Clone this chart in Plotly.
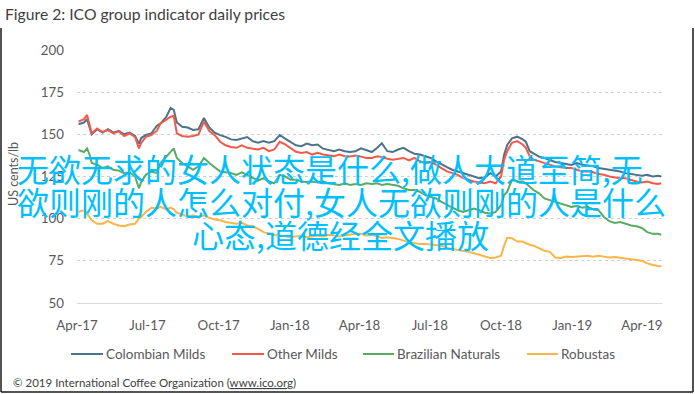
import plotly.graph_objects as go

# ---------------- data ----------------
dates = [
    "2017-04-03", "2017-04-10", "2017-04-14", "2017-04-18", "2017-04-20", "2017-04-27",
    "2017-05-04", "2017-05-11", "2017-05-18", "2017-05-25",
    "2017-06-01", "2017-06-08", "2017-06-15", "2017-06-20", "2017-06-23", "2017-06-29",
    "2017-07-06", "2017-07-13", "2017-07-18", "2017-07-25", "2017-07-31",
    "2017-08-04", "2017-08-08", "2017-08-15", "2017-08-22", "2017-08-29",
    "2017-09-05", "2017-09-12", "2017-09-19", "2017-09-26",
    "2017-10-03", "2017-10-10", "2017-10-17", "2017-10-24", "2017-10-31",
    "2017-11-07", "2017-11-14", "2017-11-21", "2017-11-28",
    "2017-12-05", "2017-12-12", "2017-12-19", "2017-12-26",
    "2018-01-02", "2018-01-09", "2018-01-16", "2018-01-23", "2018-01-30",
    "2018-02-06", "2018-02-13", "2018-02-20", "2018-02-27",
    "2018-03-06", "2018-03-13", "2018-03-20", "2018-03-27",
    "2018-04-03", "2018-04-10", "2018-04-17", "2018-04-24", "2018-04-30",
    "2018-05-07", "2018-05-14", "2018-05-21", "2018-05-28",
    "2018-06-04", "2018-06-11", "2018-06-18", "2018-06-25",
    "2018-07-02", "2018-07-09", "2018-07-16", "2018-07-23", "2018-07-30",
    "2018-08-06", "2018-08-13", "2018-08-20", "2018-08-27",
    "2018-09-03", "2018-09-10", "2018-09-17", "2018-09-24",
    "2018-10-01", "2018-10-05", "2018-10-09", "2018-10-15", "2018-10-22", "2018-10-29",
    "2018-11-02", "2018-11-07", "2018-11-12", "2018-11-19", "2018-11-26",
    "2018-12-03", "2018-12-10", "2018-12-17", "2018-12-24", "2018-12-31",
    "2019-01-07", "2019-01-14", "2019-01-21", "2019-01-28",
    "2019-02-04", "2019-02-11", "2019-02-18", "2019-02-25",
    "2019-03-04", "2019-03-11", "2019-03-18", "2019-03-25",
    "2019-04-01", "2019-04-08", "2019-04-15", "2019-04-22", "2019-04-26",
]

colombian_milds = [
    156, 157, 159, 153, 150, 153,
    151, 153, 151, 152,
    150, 151, 149, 144.5, 147.8, 149.6,
    150.5, 155, 156.5, 160, 165.6,
    164.5, 157, 154.5, 154, 152.6,
    153, 159.7, 154, 151,
    149.5, 148.5, 147, 146.7, 147.5,
    148.4, 146, 145, 146,
    145, 146, 149.6, 147.5,
    145.6, 143.5, 143, 144.5, 143.5,
    144, 141.5, 140.7, 140,
    141, 140, 139.5, 140,
    141.7, 140.5, 139.5, 142, 144.7,
    140, 139.5, 141, 142,
    140, 138.5, 138, 137,
    136, 134, 132, 130.5, 129,
    128, 127, 126, 125,
    124, 124.5, 127, 125,
    128, 138, 143.7, 147.6, 148.6, 147,
    145.6, 140, 138.7, 136.8, 136,
    134.8, 133.6, 133, 132.5, 131.8,
    133, 132, 131.5, 131,
    130, 129.5, 129, 128.5,
    128, 127, 126.5, 126,
    125.5, 126, 125, 125.5, 125,
]

other_milds = [
    157.5, 159, 161.5, 154, 150.6, 153.5,
    151.4, 152.5, 150.5, 151.8,
    149, 150.5, 148.4, 141.7, 145, 148.5,
    149.6, 152, 156.5, 158.5, 160.5,
    161, 150.6, 149, 148.5, 149,
    150, 157.5, 152, 149.5,
    145.6, 143.5, 142.5, 142, 143.5,
    142, 141.5, 141, 142,
    140, 141, 145.6, 144,
    142, 139.7, 139, 139.5, 138,
    139, 138, 137.5, 137,
    138, 137, 136.8, 137.5,
    136.8, 136, 136, 137, 136.5,
    135.5, 135, 135.5, 136,
    134.5, 136, 134, 133,
    133.5, 132, 130, 128, 127,
    126, 124, 123, 122,
    121.5, 121, 122, 121,
    125, 135, 140, 145, 146, 144,
    142, 137, 135, 134, 133,
    132, 131, 130.5, 130, 130,
    129, 128, 128, 127.5,
    126.5, 126, 125, 124.5,
    124, 124, 123, 122,
    121.5, 122, 121, 120.5, 121,
]

brazilian_naturals = [
    140.7, 139.5, 141.7, 137, 133, 132,
    130, 131, 129, 128.5,
    127, 127.5, 125, 118, 121.7, 126,
    128, 127, 133, 136.5, 139.7,
    141.7, 136, 133, 131, 129,
    131, 136, 133, 130.6,
    128, 127.5, 127, 126, 127.5,
    126, 124, 122.5, 124,
    122, 121, 126, 125,
    123, 123, 122, 121.7, 122,
    121.5, 122, 121, 120.5,
    120, 121, 120, 120.5,
    120, 121, 120.5, 121, 120,
    120.5, 120, 119.5, 118,
    117, 117, 116, 114,
    113, 112, 110, 108, 106.5,
    105, 104, 105, 106,
    105, 103.5, 103, 104,
    108, 114, 116, 123, 122, 122,
    121, 119, 117, 115, 112,
    111, 110, 109, 108, 107,
    107.5, 106.5, 107, 105.5,
    105, 101, 98.5, 97.5,
    98, 97, 96, 95.5,
    94.5, 92, 91, 91, 90.5,
]

robustas = [
    104, 105, 103, 100, 99, 97,
    97, 98.5, 97, 96,
    95.5, 96.5, 97, 100, 101, 104,
    106.5, 106, 107, 105.5, 106.5,
    105.5, 103.5, 102.5, 101, 102,
    101, 102, 100.5, 99.5,
    99, 98, 97.5, 97, 97.5,
    96, 95.5, 94, 92,
    91, 90.3, 90, 89.5,
    89, 89.5, 90, 89, 89.5,
    90, 89.5, 90.5, 90,
    89.5, 90, 90.5, 91,
    91, 90, 90.5, 89.5, 88.6,
    89, 88.5, 88, 87,
    86, 85.5, 85, 85,
    84.5, 84.4, 84, 82.6, 82,
    81.5, 81, 80.3, 79.5,
    78.5, 77.5, 76.7, 77,
    78, 84, 88.6, 88.4, 86.4, 86.4,
    85.5, 84.5, 84, 82.5, 81,
    80.3, 77, 76.7, 77.5, 77.3,
    77.5, 78, 78, 77.5,
    78, 77.5, 77, 77.3,
    77, 76.5, 76, 75.5,
    75, 73.5, 72.5, 72, 71.8,
]

series_names = ["Colombian Milds", "Other Milds", "Brazilian Naturals", "Robustas"]
series_colors = ["#4E7289", "#F2594B", "#5AAB62", "#F9B548"]

x_tick_dates = ["2017-04-01", "2017-07-01", "2017-10-01", "2018-01-01", "2018-04-01",
                "2018-07-01", "2018-10-01", "2019-01-01", "2019-04-01"]
x_tick_labels = ["Apr-17", "Jul-17", "Oct-17", "Jan-18", "Apr-18",
                 "Jul-18", "Oct-18", "Jan-19", "Apr-19"]
y_ticks = [50, 75, 100, 125, 150, 175, 200]

title_text = "Figure 2: ICO group indicator daily prices"
y_title = "US cents/lb"
footer_text = ("© 2019 International Coffee Organization "
               "(<span style='text-decoration:underline'>www.ico.org</span>)")
overlay_lines = ["无欲无求的女人状态是什么,做人大道至简,无",
                 "欲则刚的人怎么对付,女人无欲则刚的人是什么",
                 "心态,道德经全文播放"]

# ---------------- figure ----------------
W, H = 695, 394
L, R, T, B = 77, 33, 50, 91
PW, PH = W - L - R, H - T - B


def px(xp):
    return (xp - L) / PW


def py(yp):
    return (H - B - yp) / PH


FONT = "Lato, 'Liberation Sans', sans-serif"
TXT = "#595959"

fig = go.Figure()
all_series = [colombian_milds, other_milds, brazilian_naturals, robustas]
for name, vals, col in zip(series_names, all_series, series_colors):
    fig.add_trace(go.Scatter(x=dates, y=vals, mode="lines", name=name,
                             line=dict(color=col, width=2), showlegend=False,
                             hoverinfo="x+y+name"))

fig.update_layout(
    width=W, height=H,
    margin=dict(l=L, r=R, t=T, b=B, pad=0),
    paper_bgcolor="white", plot_bgcolor="white",
    font=dict(family=FONT, color=TXT, size=12),
    showlegend=False,
    xaxis=dict(type="date", range=["2017-04-01", "2019-04-27"],
               tickmode="array", tickvals=x_tick_dates, ticktext=x_tick_labels,
               showgrid=False, zeroline=False, showline=True,
               linecolor="#D9D9D9", linewidth=1, ticks="",
               ticklabelstandoff=10, tickfont=dict(size=13.3, color=TXT)),
    yaxis=dict(range=[50, 200], tickmode="array", tickvals=y_ticks,
               showgrid=True, gridcolor="#CFCFCF", griddash="dot", gridwidth=1,
               zeroline=False, showline=False, ticks="",
               ticklabelstandoff=12, tickfont=dict(size=13.3, color=TXT)),
)

ann = []
# title
ann.append(dict(text=title_text, xref="paper", yref="paper", x=px(3), y=py(14),
                xanchor="left", yanchor="middle", showarrow=False,
                font=dict(size=15.7, color="#404040", family=FONT)))
# y axis title
ann.append(dict(text=y_title, xref="paper", yref="paper", x=px(13), y=py(174),
                xanchor="center", yanchor="middle", showarrow=False, textangle=-90,
                font=dict(size=12.5, color=TXT, family=FONT)))
# legend (manual, Excel style)
leg_line_x = [(71, 103), (232, 264), (363, 394), (527, 558)]
leg_y = 354
shapes = []
for (x0, x1), name, col in zip(leg_line_x, series_names, series_colors):
    shapes.append(dict(type="line", xref="paper", yref="paper",
                       x0=px(x0), x1=px(x1), y0=py(leg_y), y1=py(leg_y),
                       line=dict(color=col, width=2)))
    ann.append(dict(text=name, xref="paper", yref="paper", x=px(x1 + 1), y=py(leg_y),
                    xanchor="left", yanchor="middle", showarrow=False,
                    font=dict(size=13.5, color=TXT, family=FONT)))
# footer
ann.append(dict(text=footer_text, xref="paper", yref="paper", x=px(11), y=py(382),
                xanchor="left", yanchor="middle", showarrow=False,
                font=dict(size=11.5, color="#404040", family=FONT)))
# frame
for x0, y0, x1, y1 in [(1, 28, 1, 392), (693, 28, 693, 392), (1, 392, 693, 392)]:
    shapes.append(dict(type="line", xref="paper", yref="paper",
                       x0=px(x0), x1=px(x1), y0=py(y0), y1=py(y1),
                       line=dict(color="#1A1A1A", width=1.5)))
# overlay text
CJK = "'Noto Sans CJK SC', 'Noto Sans CJK JP', sans-serif"
overlay_pos = [(15, 168, "left"), (15, 201, "left"), (340, 234, "center")]
for line, (xp, yp, anc) in zip(overlay_lines, overlay_pos):
    ann.append(dict(text=line, xref="paper", yref="paper", x=px(xp), y=py(yp),
                    xanchor=anc, yanchor="middle", showarrow=False,
                    font=dict(size=32, color="#00BFFF", family=CJK)))

fig.update_layout(annotations=ann, shapes=shapes)
fig.write_html(
    "out.html",
    config={"displayModeBar": False},
    post_script="document.body.style.margin='0';document.body.style.overflow='hidden';",
)
